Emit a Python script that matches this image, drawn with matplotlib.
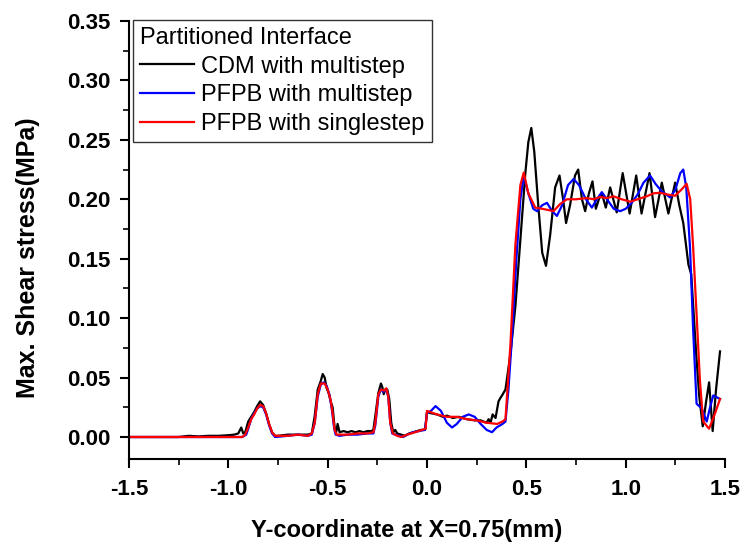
import matplotlib
matplotlib.use("Agg")
import matplotlib.pyplot as plt
from matplotlib.ticker import MultipleLocator, FormatStrFormatter

plt.rcParams['font.family'] = ['Liberation Sans', 'DejaVu Sans']

# CDM with multistep
cdm_x = [-1.5, -1.25, -1.2, -1.15, -1.1, -1.05, -1.0, -0.97, -0.95, -0.935, -0.925, -0.915,
         -0.9, -0.885, -0.87, -0.855, -0.84, -0.825, -0.81, -0.795, -0.78, -0.765, -0.75,
         -0.7, -0.65, -0.6, -0.58, -0.565, -0.55, -0.535, -0.525, -0.515, -0.505, -0.495,
         -0.485, -0.475, -0.465, -0.457, -0.45, -0.44, -0.42, -0.4, -0.38, -0.36, -0.34,
         -0.32, -0.3, -0.28, -0.27, -0.26, -0.245, -0.232, -0.225, -0.218, -0.21, -0.2,
         -0.19, -0.18, -0.17, -0.16, -0.15, -0.13, -0.11, -0.09, -0.07, -0.05, -0.03, -0.01,
         0.0, 0.02, 0.05, 0.08, 0.1, 0.13, 0.16, 0.2, 0.24, 0.27, 0.3, 0.31, 0.32, 0.33,
         0.345, 0.36, 0.37, 0.378, 0.395, 0.41, 0.42, 0.445, 0.47, 0.495, 0.51, 0.525, 0.54,
         0.56, 0.58, 0.599, 0.62, 0.645, 0.667, 0.685, 0.70, 0.72, 0.745, 0.761, 0.78,
         0.796, 0.815, 0.833, 0.85, 0.865, 0.88, 0.90, 0.922, 0.955, 0.985, 1.02, 1.053,
         1.08, 1.12, 1.148, 1.182, 1.215, 1.249, 1.27, 1.29, 1.316, 1.33, 1.34, 1.355,
         1.37, 1.388, 1.405, 1.42, 1.438, 1.455, 1.475]
cdm_y = [0, 0.0, 0.001, 0.0005, 0.001, 0.001, 0.0015, 0.002, 0.003, 0.008, 0.003, 0.004,
         0.013, 0.017, 0.021, 0.026, 0.030, 0.027, 0.020, 0.011, 0.004, 0.001, 0.001,
         0.002, 0.002, 0.002, 0.003, 0.018, 0.040, 0.047, 0.053, 0.050, 0.041, 0.037,
         0.030, 0.025, 0.008, 0.004, 0.011, 0.004, 0.005, 0.004, 0.005, 0.004, 0.005,
         0.004, 0.005, 0.005, 0.006, 0.018, 0.037, 0.045, 0.042, 0.036, 0.040, 0.040,
         0.032, 0.012, 0.004, 0.006, 0.003, 0.002, 0.001, 0.003, 0.004, 0.005, 0.006, 0.006,
         0.021, 0.020, 0.019, 0.017, 0.018, 0.016, 0.017, 0.015, 0.014, 0.014, 0.012, 0.015,
         0.012, 0.019, 0.016, 0.030, 0.033, 0.035, 0.040, 0.058, 0.070, 0.110, 0.166, 0.222,
         0.248, 0.260, 0.240, 0.195, 0.155, 0.144, 0.170, 0.210, 0.220, 0.200, 0.180, 0.195,
         0.220, 0.225, 0.200, 0.190, 0.205, 0.215, 0.192, 0.200, 0.205, 0.193, 0.210, 0.189,
         0.222, 0.188, 0.220, 0.188, 0.222, 0.185, 0.214, 0.188, 0.214, 0.195, 0.180, 0.145,
         0.137, 0.110, 0.070, 0.035, 0.009, 0.030, 0.046, 0.005, 0.040, 0.072]

# PFPB with multistep
pm_x = [-1.5, -0.93, -0.91, -0.90, -0.885, -0.87, -0.855, -0.84, -0.825, -0.81, -0.795,
        -0.78, -0.765, -0.7, -0.65, -0.6, -0.58, -0.565, -0.55, -0.535, -0.52, -0.505,
        -0.49, -0.478, -0.468, -0.46, -0.44, -0.4, -0.35, -0.3, -0.27, -0.26, -0.245,
        -0.232, -0.218, -0.205, -0.195, -0.185, -0.175, -0.16, -0.14, -0.12, -0.1, -0.07,
        -0.04, -0.01, 0.0, 0.02, 0.043, 0.07, 0.1, 0.126, 0.15, 0.18, 0.21, 0.24, 0.27,
        0.3, 0.327, 0.35, 0.38, 0.395, 0.41, 0.43, 0.45, 0.47, 0.487, 0.51, 0.535, 0.554,
        0.58, 0.604, 0.63, 0.654, 0.68, 0.71, 0.738, 0.765, 0.80, 0.83, 0.855, 0.88, 0.91,
        0.94, 0.972, 1.00, 1.03, 1.06, 1.09, 1.123, 1.15, 1.18, 1.224, 1.25, 1.275, 1.29,
        1.305, 1.324, 1.34, 1.357, 1.383, 1.408, 1.425, 1.441, 1.475]
pm_y = [0, 0, 0.002, 0.007, 0.015, 0.020, 0.024, 0.026, 0.025, 0.019, 0.010,
        0.003, 0.0, 0.001, 0.002, 0.001, 0.002, 0.012, 0.034, 0.044, 0.046, 0.043,
        0.035, 0.022, 0.008, 0.002, 0.001, 0.002, 0.002, 0.003, 0.003, 0.010, 0.034,
        0.040, 0.038, 0.040, 0.034, 0.012, 0.003, 0.002, 0.001, 0.0, 0.002, 0.004,
        0.005, 0.006, 0.020, 0.022, 0.026, 0.022, 0.012, 0.008, 0.011, 0.017, 0.019, 0.017,
        0.011, 0.006, 0.004, 0.008, 0.011, 0.013, 0.040, 0.090, 0.150, 0.200, 0.220, 0.205,
        0.192, 0.190, 0.195, 0.197, 0.190, 0.186, 0.195, 0.212, 0.217, 0.212, 0.200, 0.193,
        0.200, 0.206, 0.199, 0.192, 0.190, 0.192, 0.197, 0.204, 0.214, 0.220, 0.213, 0.207,
        0.2015, 0.208, 0.222, 0.225, 0.210, 0.159, 0.089, 0.028, 0.024, 0.013, 0.025, 0.035,
        0.032]

# PFPB with singlestep
ps_x = [-1.5, -0.93, -0.915, -0.90, -0.885, -0.87, -0.855, -0.84, -0.825, -0.81, -0.795,
        -0.78, -0.765, -0.7, -0.65, -0.6, -0.58, -0.565, -0.55, -0.535, -0.515, -0.50,
        -0.485, -0.475, -0.465, -0.455, -0.4, -0.35, -0.3, -0.27, -0.26, -0.245, -0.232,
        -0.215, -0.205, -0.195, -0.185, -0.172, -0.15, -0.13, -0.1, -0.06, -0.025, -0.007,
        0.0, 0.05, 0.1, 0.15, 0.2, 0.25, 0.3, 0.353, 0.38, 0.395, 0.42, 0.445, 0.47, 0.487,
        0.51, 0.545, 0.58, 0.61, 0.637, 0.67, 0.704, 0.75, 0.804, 0.84, 0.871, 0.905, 0.939,
        0.98, 1.023, 1.06, 1.106, 1.14, 1.173, 1.21, 1.249, 1.28, 1.307, 1.325, 1.34, 1.357,
        1.374, 1.39, 1.42, 1.45, 1.475]
ps_y = [0, 0, 0.002, 0.008, 0.015, 0.019, 0.024, 0.027, 0.026, 0.020, 0.011,
        0.004, 0.001, 0.001, 0.002, 0.001, 0.003, 0.012, 0.036, 0.045, 0.045, 0.040,
        0.031, 0.020, 0.006, 0.002, 0.002, 0.003, 0.003, 0.004, 0.012, 0.036, 0.040,
        0.039, 0.041, 0.034, 0.012, 0.003, 0.001, 0.000, 0.002, 0.004, 0.006, 0.007,
        0.022, 0.019, 0.017, 0.017, 0.015, 0.014, 0.012, 0.011, 0.013, 0.015, 0.078, 0.162,
        0.212, 0.2225, 0.205, 0.193, 0.192, 0.191, 0.190, 0.196, 0.200, 0.200, 0.201, 0.200,
        0.202, 0.201, 0.2025, 0.200, 0.198, 0.200, 0.2025, 0.205, 0.2055, 0.204, 0.203,
        0.208, 0.213, 0.200, 0.159, 0.103, 0.047, 0.013, 0.007, 0.020, 0.032]

fig = plt.figure(figsize=(7.41, 5.45), dpi=100)
ax = fig.add_axes([0.1741, 0.1578, 0.8043, 0.8037])

ax.plot(cdm_x, cdm_y, color='black', lw=1.6, label='CDM with multistep')
ax.plot(pm_x, pm_y, color='blue', lw=1.6, label='PFPB with multistep')
ax.plot(ps_x, ps_y, color='red', lw=1.6, label='PFPB with singlestep')

ax.set_xlim(-1.5, 1.5)
ax.set_ylim(-0.0185, 0.35)
ax.xaxis.set_major_locator(MultipleLocator(0.5))
ax.xaxis.set_minor_locator(MultipleLocator(0.25))
ax.yaxis.set_major_locator(MultipleLocator(0.05))
ax.yaxis.set_minor_locator(MultipleLocator(0.025))
ax.xaxis.set_major_formatter(FormatStrFormatter('%.1f'))
ax.yaxis.set_major_formatter(FormatStrFormatter('%.2f'))

ax.spines['top'].set_visible(False)
ax.spines['right'].set_visible(False)
ax.spines['left'].set_linewidth(1.5)
ax.spines['bottom'].set_linewidth(1.5)
ax.tick_params(which='major', direction='out', length=6.5, width=1.5, labelsize=16)
ax.tick_params(which='minor', direction='out', length=4, width=1.2)
ax.tick_params(axis='x', which='major', pad=8)
ax.tick_params(axis='y', which='major', pad=7)
for lab in ax.get_xticklabels() + ax.get_yticklabels():
    lab.set_fontweight('bold')

ax.set_xlabel('Y-coordinate at X=0.75(mm)', fontsize=17, fontweight='bold')
ax.set_ylabel('Max. Shear stress(MPa)', fontsize=18, fontweight='bold')
ax.xaxis.set_label_coords(0.465, -0.136)
ax.yaxis.set_label_coords(-0.150, 0.459)

leg = ax.legend(title='Partitioned Interface', loc='upper left', fontsize=17,
                title_fontsize=17, fancybox=False, framealpha=1, edgecolor='#333333',
                handlelength=2.3, handletextpad=0.3, labelspacing=0.28, alignment='left',
                borderpad=0.3, bbox_to_anchor=(133 / 741, 1 - 20 / 545),
                bbox_transform=fig.transFigure, borderaxespad=0)
leg.get_frame().set_linewidth(1.0)

fig.savefig('out.png', dpi=100)
